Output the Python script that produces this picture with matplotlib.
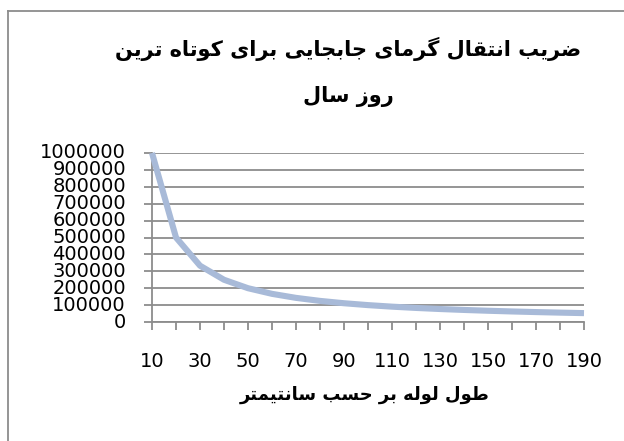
#!/usr/bin/env python3

import matplotlib
matplotlib.use("Agg")
import matplotlib.pyplot as plt
from matplotlib.lines import Line2D

# pipe length (cm) and convective heat transfer coefficient
lengths = [10, 20, 30, 40, 50, 60, 70, 80, 90, 100,
           110, 120, 130, 140, 150, 160, 170, 180, 190]
h_values = [1000000, 500000, 333333, 250000, 200000, 166667, 142857,
            125000, 111111, 100000, 90909, 83333, 76923, 71429, 66667,
            62500, 58824, 55556, 52632]
y_ticks = [0, 100000, 200000, 300000, 400000, 500000,
           600000, 700000, 800000, 900000, 1000000]

title_lines = ["ضریب انتقال گرمای جابجایی برای کوتاه ترین", "روز سال"]
x_title = "طول لوله بر حسب سانتیمتر"

# isolated, final, initial, medial (right-joining letters have only two)
FORMS = {
    "ا": ("\uFE8D", "\uFE8E"),
    "ب": ("\uFE8F", "\uFE90", "\uFE91", "\uFE92"),
    "ت": ("\uFE95", "\uFE96", "\uFE97", "\uFE98"),
    "ج": ("\uFE9D", "\uFE9E", "\uFE9F", "\uFEA0"),
    "ح": ("\uFEA1", "\uFEA2", "\uFEA3", "\uFEA4"),
    "ر": ("\uFEAD", "\uFEAE"),
    "ز": ("\uFEAF", "\uFEB0"),
    "س": ("\uFEB1", "\uFEB2", "\uFEB3", "\uFEB4"),
    "ض": ("\uFEBD", "\uFEBE", "\uFEBF", "\uFEC0"),
    "ط": ("\uFEC1", "\uFEC2", "\uFEC3", "\uFEC4"),
    "ق": ("\uFED5", "\uFED6", "\uFED7", "\uFED8"),
    "ل": ("\uFEDD", "\uFEDE", "\uFEDF", "\uFEE0"),
    "م": ("\uFEE1", "\uFEE2", "\uFEE3", "\uFEE4"),
    "ن": ("\uFEE5", "\uFEE6", "\uFEE7", "\uFEE8"),
    "ه": ("\uFEE9", "\uFEEA", "\uFEEB", "\uFEEC"),
    "و": ("\uFEED", "\uFEEE"),
    "ک": ("\uFB8E", "\uFB8F", "\uFB90", "\uFB91"),
    "گ": ("\uFB92", "\uFB93", "\uFB94", "\uFB95"),
    "ی": ("\uFBFC", "\uFBFD", "\uFBFE", "\uFBFF"),
}


def shape(text):
    # matplotlib has no Arabic shaping, so pick the contextual forms by hand
    out = []
    for i, ch in enumerate(text):
        if ch not in FORMS:
            out.append(ch)
            continue
        prev = text[i - 1] if i > 0 else ""
        nxt = text[i + 1] if i + 1 < len(text) else ""
        join_prev = prev in FORMS and len(FORMS[prev]) == 4
        join_next = len(FORMS[ch]) == 4 and nxt in FORMS
        f = FORMS[ch]
        if join_prev and join_next:
            out.append(f[3])
        elif join_prev:
            out.append(f[1])
        elif join_next:
            out.append(f[2])
        else:
            out.append(f[0])
    return "".join(reversed(out))


fig = plt.figure(figsize=(6.24, 4.41), dpi=100)
ax = fig.add_axes([0.2436, 0.2698, 0.6923, 0.3833])

x = list(range(len(lengths)))
ax.plot(x, h_values, color="#a8bad8", linewidth=4.4,
        solid_capstyle="butt", clip_on=False, zorder=3)

ax.set_xlim(0, len(lengths) - 1)
ax.set_ylim(0, 1000000)
ax.set_yticks(y_ticks)
ax.set_yticklabels([str(v) for v in y_ticks])
ax.set_xticks(x)
ax.set_xticklabels([str(v) if i % 2 == 0 else "" for i, v in enumerate(lengths)])

ax.grid(True, axis="y", color="#8c8c8c", linewidth=1.3)
ax.set_axisbelow(True)
for side in ("top", "right"):
    ax.spines[side].set_visible(False)
for side in ("left", "bottom"):
    ax.spines[side].set_color("#8c8c8c")
    ax.spines[side].set_linewidth(1.3)

ax.tick_params(axis="both", direction="out", length=5.8, width=1.3,
               color="#8c8c8c", labelsize=14, labelcolor="black")
ax.tick_params(axis="y", pad=13)
ax.tick_params(axis="x", pad=16)
for lab in ax.get_yticklabels():
    lab.set_verticalalignment("center")

fig.text(0.558, 0.837, shape(title_lines[0]) + "\n" + shape(title_lines[1]),
         ha="center", va="center", fontsize=15, fontweight="bold",
         family="DejaVu Sans", linespacing=2.55)
fig.text(0.585, 0.104, shape(x_title), ha="center", va="center",
         fontsize=13, fontweight="bold", family="DejaVu Sans")

# chart frame (only left and top edges fall inside the picture)
fig.add_artist(Line2D([8 / 624, 8 / 624], [0, 1 - 11 / 441],
                      transform=fig.transFigure, color="#8c8c8c", linewidth=1.3))
fig.add_artist(Line2D([8 / 624, 1], [1 - 11 / 441, 1 - 11 / 441],
                      transform=fig.transFigure, color="#8c8c8c", linewidth=1.3))

fig.savefig("out.png", dpi=100)
print("Saved: out.png")
